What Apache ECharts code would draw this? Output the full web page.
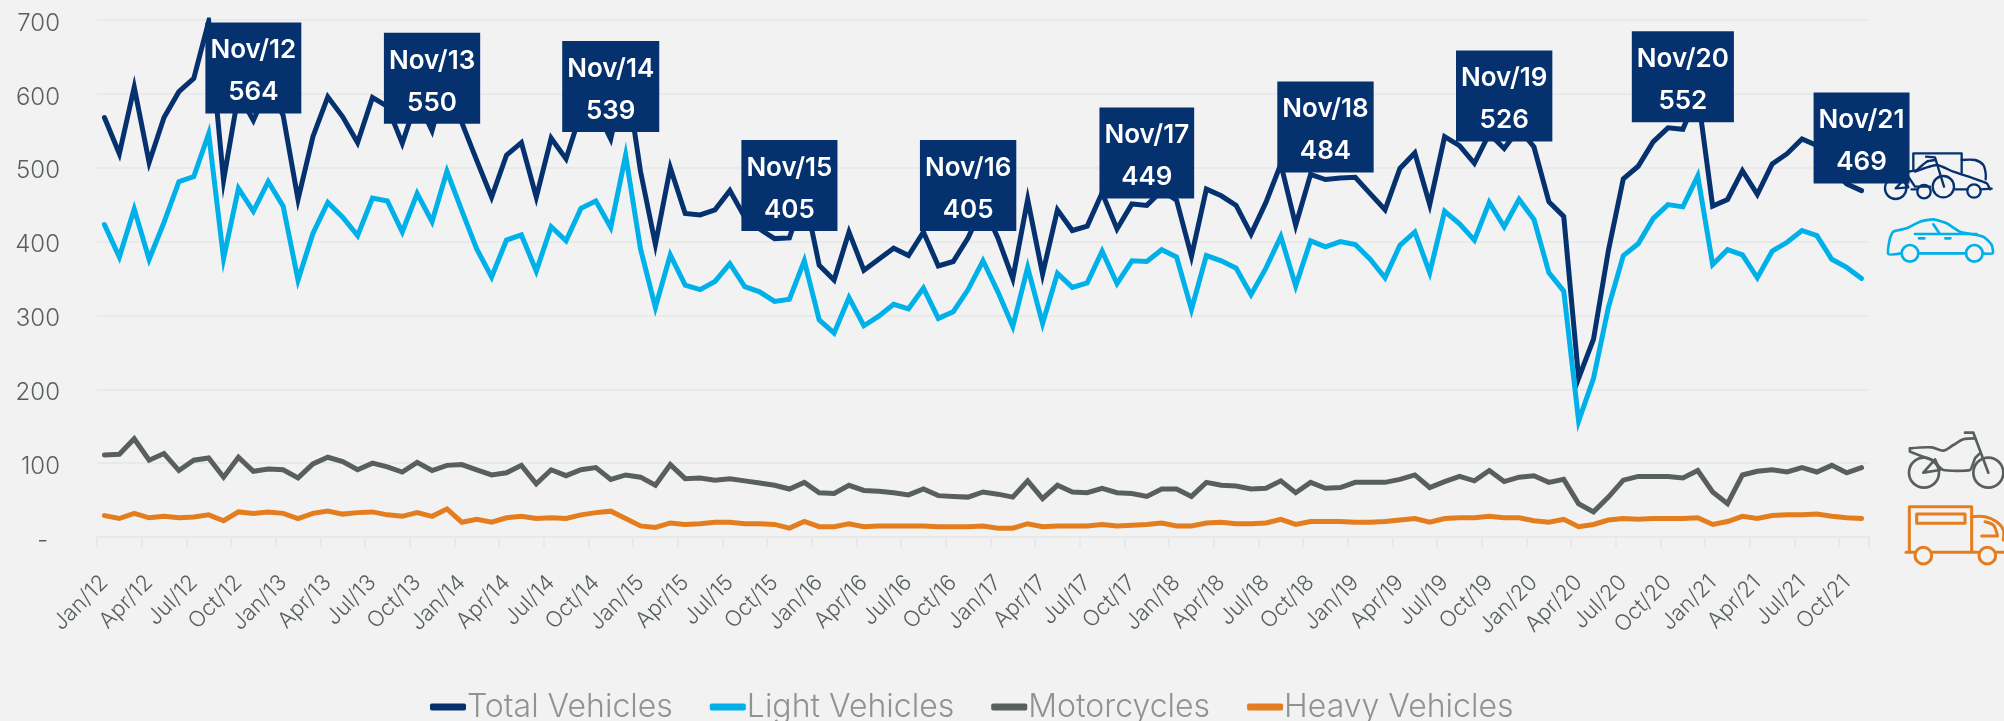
<!DOCTYPE html>
<html>
<head>
<meta charset="utf-8">
<style>
  html, body { margin: 0; padding: 0; background: #f2f2f2; }
  #chart { width: 2004px; height: 721px; }
</style>
<script src="https://cdn.jsdelivr.net/npm/echarts@6/dist/echarts.min.js"></script>
</head>
<body>
<div id="chart"></div>
<script>
const months = [
  'Jan/12','Feb/12','Mar/12','Apr/12','May/12','Jun/12','Jul/12','Aug/12','Sep/12','Oct/12','Nov/12','Dec/12',
  'Jan/13','Feb/13','Mar/13','Apr/13','May/13','Jun/13','Jul/13','Aug/13','Sep/13','Oct/13','Nov/13','Dec/13',
  'Jan/14','Feb/14','Mar/14','Apr/14','May/14','Jun/14','Jul/14','Aug/14','Sep/14','Oct/14','Nov/14','Dec/14',
  'Jan/15','Feb/15','Mar/15','Apr/15','May/15','Jun/15','Jul/15','Aug/15','Sep/15','Oct/15','Nov/15','Dec/15',
  'Jan/16','Feb/16','Mar/16','Apr/16','May/16','Jun/16','Jul/16','Aug/16','Sep/16','Oct/16','Nov/16','Dec/16',
  'Jan/17','Feb/17','Mar/17','Apr/17','May/17','Jun/17','Jul/17','Aug/17','Sep/17','Oct/17','Nov/17','Dec/17',
  'Jan/18','Feb/18','Mar/18','Apr/18','May/18','Jun/18','Jul/18','Aug/18','Sep/18','Oct/18','Nov/18','Dec/18',
  'Jan/19','Feb/19','Mar/19','Apr/19','May/19','Jun/19','Jul/19','Aug/19','Sep/19','Oct/19','Nov/19','Dec/19',
  'Jan/20','Feb/20','Mar/20','Apr/20','May/20','Jun/20','Jul/20','Aug/20','Sep/20','Oct/20','Nov/20','Dec/20',
  'Jan/21','Feb/21','Mar/21','Apr/21','May/21','Jun/21','Jul/21','Aug/21','Sep/21','Oct/21','Nov/21',
];
const totalVehicles = [
  568,519,609,507,568,603,621,698,483,600,564,610,
  571,457,542,596,569,534,595,583,533,593,550,625,
  561,510,460,517,534,460,540,512,575,580,539,630,
  495,396,500,438,436,443,469,433,417,404,405,465,
  368,348,413,361,376,391,381,413,367,373,405,449,
  405,350,457,356,443,415,421,466,417,451,449,469,
  456,380,471,462,449,410,453,505,422,491,484,486,
  487,465,443,499,520,450,542,530,506,546,526,553,
  528,454,434,215,268,388,485,502,535,554,552,600,
  448,457,496,464,505,519,539,530,499,478,469,
];
const lightVehicles = [
  423,379,444,376,426,481,488,546,377,472,441,481,
  448,348,411,453,433,408,459,455,413,465,427,495,
  442,390,352,402,409,360,420,401,445,455,419,517,
  390,311,382,341,335,346,370,339,332,319,322,374,
  294,276,324,286,299,315,309,337,296,305,335,374,
  332,285,365,289,357,338,344,387,343,374,373,389,
  379,308,381,374,364,328,364,407,340,401,393,400,
  396,376,351,395,413,358,441,424,402,453,420,457,
  430,358,333,157,215,311,381,397,431,450,447,489,
  369,389,382,351,387,399,415,408,376,365,350,
];
const motorcycles = [
  111,112,133,104,113,90,104,107,81,108,89,92,
  91,80,99,108,102,91,100,95,88,101,90,97,
  98,91,84,87,97,72,91,83,91,94,78,84,
  81,70,98,79,80,77,79,76,73,70,65,74,
  60,59,70,63,62,60,57,65,56,55,54,61,
  58,54,76,52,70,61,60,66,60,59,55,65,
  65,55,74,70,69,65,66,76,60,74,66,67,
  74,74,74,78,84,67,75,82,76,90,75,81,
  83,74,78,45,34,54,77,82,82,82,80,90,
  61,45,84,89,91,88,94,88,97,87,94,
];
const heavyVehicles = [
  29,25,32,26,28,26,27,30,22,34,32,34,
  32,25,32,35,31,33,34,30,28,33,28,38,
  20,24,20,26,28,25,26,25,30,33,35,25,
  15,13,19,17,18,20,20,18,18,17,12,21,
  14,14,18,14,15,15,15,15,14,14,14,15,
  12,12,18,14,15,15,15,17,15,16,17,19,
  15,15,19,20,18,18,19,24,17,21,21,21,
  20,20,21,23,25,20,25,26,26,28,26,26,
  22,20,24,14,17,23,25,24,25,25,25,26,
  17,21,28,25,29,30,30,31,28,26,25,
];
const calloutMonths = ['Nov/12','Nov/13','Nov/14','Nov/15','Nov/16','Nov/17','Nov/18','Nov/19','Nov/20','Nov/21'];
const yTicks = { min: 0, max: 700, interval: 100 };

const NAVY = '#06316f';
const SKY = '#00b0e8';
const GREY = '#595f5f';
const ORANGE = '#e47d1e';
const FONT = 'Inter';

function calloutData(values) {
  return values.map((value, index) => {
    if (!calloutMonths.includes(months[index])) {
      return value;
    }
    return {
      value,
      label: {
        show: true,
        position: 'top',
        distance: 7,
        formatter: (params) => `${params.name}\n${params.value}`,
        color: '#ffffff',
        fontFamily: FONT,
        fontWeight: 600,
        fontSize: 26,
        lineHeight: 42,
        align: 'center',
        backgroundColor: NAVY,
        padding: [7, 5, 0, 5],
      },
    };
  });
}

function lineSeries(name, data, color) {
  return {
    name,
    type: 'line',
    data,
    symbol: 'circle',
    symbolSize: 0,
    showSymbol: true,
    showAllSymbol: true,
    silent: true,
    animation: false,
    lineStyle: { color, width: 5, cap: 'round', join: 'miter' },
    itemStyle: { color },
  };
}

function stroke(color, width) {
  return { fill: 'none', stroke: color, lineWidth: width, lineCap: 'round', lineJoin: 'round' };
}
function poly(points, style, smooth) {
  return { type: 'polyline', shape: { points, smooth: smooth || 0 }, style };
}
function ring(cx, cy, r, style) {
  return { type: 'circle', shape: { cx, cy, r }, style };
}

// decorative vehicle icons, each drawn in its own 3x local space
const navyLine = stroke(NAVY, 7);
const skyLine = stroke(SKY, 8);
const greyLine = stroke(GREY, 8);
const orangeLine = stroke(ORANGE, 9);

const stackedIcons = {
  type: 'group', x: 1840, y: 130, scaleX: 1 / 3, scaleY: 1 / 3, z: 100,
  children: [
    poly([[220, 118], [220, 70], [365, 70], [365, 128]], navyLine),
    poly([[365, 90], [405, 90], [430, 105], [437, 130], [437, 148]], navyLine, 0.3),
    poly([[225, 125], [290, 105], [340, 125], [400, 145], [440, 160], [450, 178]], navyLine, 0.2),
    poly([[215, 178], [232, 178]], navyLine),
    poly([[345, 178], [382, 178]], navyLine),
    poly([[422, 178], [455, 176]], navyLine),
    ring(402, 183, 20, navyLine),
    ring(252, 185, 20, navyLine),
    ring(167, 175, 32, navyLine),
    ring(310, 170, 32, navyLine),
    poly([[140, 118], [200, 125], [230, 120], [260, 95], [285, 90]], navyLine, 0.2),
    poly([[258, 80], [285, 82], [312, 170]], navyLine),
    poly([[140, 118], [205, 140], [225, 170], [270, 170]], navyLine),
    poly([[167, 175], [195, 145], [205, 172], [167, 175]], navyLine),
  ],
};
const carIcon = {
  type: 'group', x: 1840, y: 130, scaleX: 1 / 3, scaleY: 1 / 3, z: 100,
  children: [
    poly([[185, 370], [145, 372], [150, 325], [160, 305], [200, 295], [240, 275], [280, 268], [320, 280], [360, 305], [430, 320], [455, 345], [458, 370], [428, 370]], skyLine, 0.2),
    poly([[235, 370], [378, 370]], skyLine),
    ring(210, 370, 25, skyLine),
    ring(403, 370, 25, skyLine),
    poly([[225, 312], [410, 312]], skyLine),
    poly([[280, 283], [298, 310]], skyLine),
    poly([[237, 325], [253, 325]], skyLine),
    poly([[316, 325], [331, 325]], skyLine),
  ],
};
const motorcycleIcon = {
  type: 'group', x: 1860, y: 420, scaleX: 1 / 3, scaleY: 1 / 3, z: 100,
  children: [
    ring(192, 158, 45, greyLine),
    ring(385, 158, 45, greyLine),
    poly([[150, 85], [215, 82], [250, 92], [280, 75], [310, 58], [345, 55]], greyLine, 0.3),
    poly([[315, 38], [340, 38], [385, 158]], greyLine),
    poly([[150, 85], [150, 95], [215, 120], [250, 150], [330, 150], [345, 115], [360, 100]], greyLine, 0.15),
    poly([[190, 158], [225, 118], [240, 150], [190, 158]], greyLine),
  ],
};
const truckIcon = {
  type: 'group', x: 1860, y: 420, scaleX: 1 / 3, scaleY: 1 / 3, z: 100,
  children: [
    poly([[148, 395], [148, 260], [335, 260], [335, 395]], orangeLine),
    { type: 'rect', shape: { x: 170, y: 282, width: 145, height: 28 }, style: orangeLine },
    poly([[335, 290], [375, 290], [410, 305], [430, 330], [430, 360]], orangeLine, 0.3),
    poly([[365, 348], [412, 348]], orangeLine),
    poly([[375, 305], [400, 315], [412, 345]], orangeLine, 0.3),
    poly([[138, 397], [165, 397]], orangeLine),
    poly([[215, 397], [355, 397]], orangeLine),
    poly([[410, 397], [432, 397]], orangeLine),
    ring(190, 407, 25, orangeLine),
    ring(382, 407, 25, orangeLine),
  ],
};

const chart = echarts.init(document.getElementById('chart'), null, { renderer: 'canvas' });
chart.setOption({
  animation: false,
  backgroundColor: '#f2f2f2',
  textStyle: { fontFamily: FONT },
  grid: { left: 97, right: 135, top: 20, bottom: 184 },
  legend: {
    left: 430,
    top: 691,
    itemWidth: 36,
    itemHeight: 7,
    itemGap: 37,
    padding: 0,
    icon: 'roundRect',
    textStyle: {
      color: '#8f9393',
      fontFamily: FONT,
      fontWeight: 300,
      fontSize: 32,
      padding: [0, 0, 0, -4],
    },
    data: ['Total Vehicles', 'Light Vehicles', 'Motorcycles', 'Heavy Vehicles'],
  },
  xAxis: {
    type: 'category',
    data: months,
    boundaryGap: true,
    axisLine: { lineStyle: { color: '#e8e8e8', width: 2 } },
    axisTick: { show: true, interval: 2, length: 10, lineStyle: { color: '#e8e8e8', width: 2 } },
    axisLabel: {
      interval: 2,
      rotate: 45,
      margin: 42,
      color: '#595f5f',
      fontFamily: FONT,
      fontWeight: 300,
      fontSize: 22,
    },
    splitLine: { show: false },
  },
  yAxis: {
    type: 'value',
    min: yTicks.min,
    max: yTicks.max,
    interval: yTicks.interval,
    axisLine: { show: false },
    axisTick: { show: false },
    axisLabel: {
      margin: 37,
      formatter: (value) => (value === 0 ? '{dash|-}' : `{tick|${value}}`),
      rich: {
        tick: { color: '#595f5f', fontFamily: FONT, fontWeight: 300, fontSize: 24, padding: [7, 0, 0, 0] },
        dash: { color: '#595f5f', fontFamily: FONT, fontWeight: 300, fontSize: 24, padding: [7, 12, 0, 0] },
      },
    },
    splitLine: { lineStyle: { color: '#e9e9e9', width: 2 } },
  },
  series: [
    lineSeries('Total Vehicles', calloutData(totalVehicles), NAVY),
    lineSeries('Light Vehicles', lightVehicles, SKY),
    lineSeries('Motorcycles', motorcycles, GREY),
    lineSeries('Heavy Vehicles', heavyVehicles, ORANGE),
  ],
  graphic: { elements: [stackedIcons, carIcon, motorcycleIcon, truckIcon] },
});
</script>
</body>
</html>
